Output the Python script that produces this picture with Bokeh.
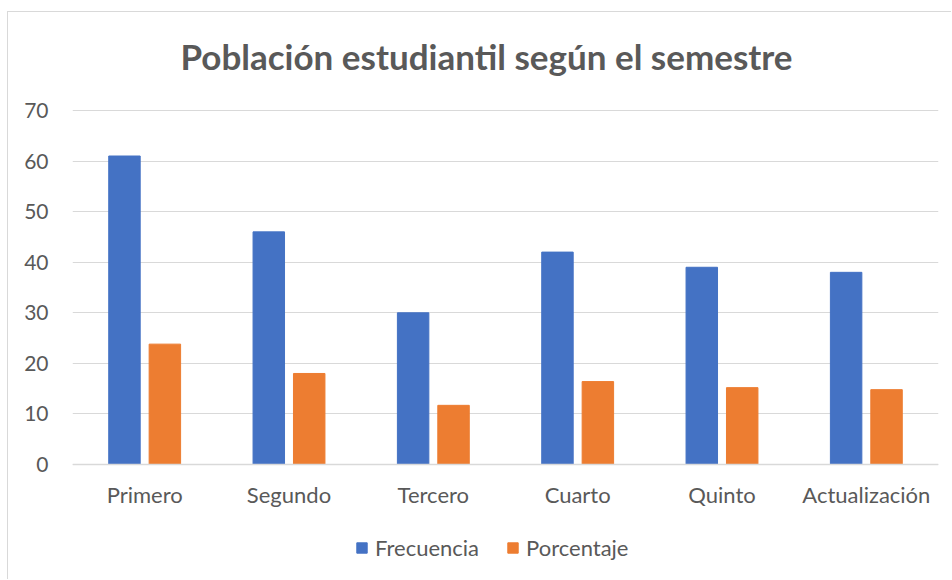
from bokeh.plotting import figure
from bokeh.models import ColumnDataSource, FactorRange, Legend, LegendItem, Label, Range1d
from bokeh.transform import dodge
from bokeh.embed import file_html
from bokeh.resources import INLINE

categories = ["Primero", "Segundo", "Tercero", "Cuarto", "Quinto", "Actualización"]
frecuencia = [61, 46, 30, 42, 39, 38]
porcentaje = [23.8, 18.0, 11.7, 16.4, 15.2, 14.8]
y_ticks = [0, 10, 20, 30, 40, 50, 60, 70]
title_text = "Población estudiantil según el semestre"

FONT = "Lato"
TXT = "#595959"

# layout (pixels): value axis 0..70 spans 354 px; the frame extends above 70 to host the
# title and below 0 to host the legend
Y_MAX = 70
PX_PER_UNIT = 354 / Y_MAX
EXTRA_BELOW_PX = 111
EXTRA_ABOVE_PX = 90
y_start = -EXTRA_BELOW_PX / PX_PER_UNIT
y_end = Y_MAX + EXTRA_ABOVE_PX / PX_PER_UNIT
title_y = Y_MAX + 55 / PX_PER_UNIT      # title position above the 70 gridline
title_x = len(categories) * (414 / 866)  # centre of the chart area

src = ColumnDataSource(dict(cat=categories, frec=frecuencia, porc=porcentaje))

p = figure(width=944, height=568, x_range=FactorRange(*categories, range_padding=0),
           y_range=Range1d(y_start, y_end), output_backend="svg", toolbar_location=None,
           min_border_left=64, min_border_right=14, min_border_top=8, min_border_bottom=5)
p.styles = {"margin-left": "7px", "margin-top": "11px",
            "border-left": "1px solid #d9d9d9", "border-top": "1px solid #d9d9d9"}
p.outline_line_color = None

r1 = p.vbar(x=dodge("cat", -0.14, range=p.x_range), top="frec", width=0.218, source=src,
            color="#4472C4")
r2 = p.vbar(x=dodge("cat", 0.14, range=p.x_range), top="porc", width=0.218, source=src,
            color="#ED7D31")

p.yaxis.ticker = y_ticks
p.yaxis.axis_line_color = None
p.yaxis.major_tick_line_color = None
p.yaxis.minor_tick_line_color = None
p.yaxis.major_label_text_font = FONT
p.yaxis.major_label_text_font_size = "21px"
p.yaxis.major_label_text_color = TXT
p.yaxis.major_label_standoff = 18

p.xaxis.fixed_location = 0
p.xaxis.axis_line_color = "#d9d9d9"
p.xaxis.axis_line_width = 1.5
p.xaxis.major_tick_line_color = None
p.xaxis.minor_tick_line_color = None
p.xaxis.major_label_text_font = FONT
p.xaxis.major_label_text_font_size = "22px"
p.xaxis.major_label_text_color = TXT
p.xaxis.major_label_standoff = 10

p.xgrid.grid_line_color = None
p.ygrid.grid_line_color = "#d9d9d9"
p.ygrid.grid_line_width = 1.2

legend = Legend(items=[LegendItem(label="Frecuencia", renderers=[r1]),
                       LegendItem(label="Porcentaje", renderers=[r2])],
                orientation="horizontal", location=(283, 14),
                label_text_font=FONT, label_text_font_size="22px", label_text_color=TXT,
                glyph_width=13, glyph_height=13, label_standoff=7, spacing=27,
                border_line_color=None, background_fill_alpha=0, margin=0, padding=0)
p.add_layout(legend)

title = Label(x=title_x, y=title_y, text=title_text, text_font=FONT, text_font_style="bold",
              text_font_size="35px", text_color=TXT, text_align="center",
              text_baseline="alphabetic")
p.add_layout(title)

open("out.html", "w").write(file_html(p, INLINE))
